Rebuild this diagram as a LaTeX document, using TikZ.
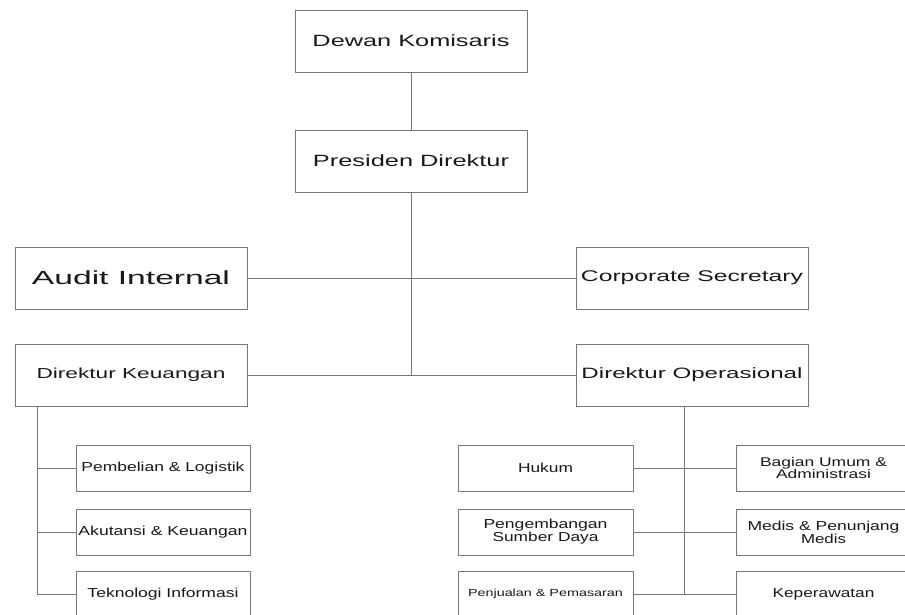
\documentclass[tikz,border=0pt]{standalone}
\usepackage{fontspec}
\setmainfont{Liberation Sans}
\usepackage{graphicx}
\definecolor{linegray}{RGB}{120,120,120}
\definecolor{textc}{RGB}{25,25,25}
\newcommand\fitw[2]{\resizebox{#1pt}{\height}{#2}}
\newcommand\fs[2]{\fontsize{#1}{#2}\selectfont}
\tikzset{
  box/.style={draw=linegray, line width=0.9pt, rectangle, inner sep=0pt, text=textc},
  bigbox/.style={box, minimum width=232pt, minimum height=62pt},
  smallbox/.style={box, minimum width=174pt, minimum height=46pt, align=center},
  conn/.style={draw=linegray, line width=0.9pt},
}
\begin{document}
\begin{tikzpicture}[x=1pt,y=-1pt]
\useasboundingbox (0,0) rectangle (905,614);
\clip (0,0) rectangle (905,614);
\fill[white] (0,0) rectangle (905,614);
% top levels
\node[bigbox, font=\fs{16.3}{19}] (dk) at (411,41) {\fitw{197}{Dewan Komisaris}};
\node[bigbox, font=\fs{16.3}{19}] (pd) at (411,161) {\fitw{196}{Presiden Direktur}};
\node[bigbox, font=\fs{19}{22}] (ai) at (131,278) {\fitw{198}{Audit Internal}};
\node[bigbox, font=\fs{15.5}{18}] (cs) at (692,278) {\fitw{222}{Corporate Secretary}};
\node[bigbox, font=\fs{14.5}{17}] (dkeu) at (131,375) {\fitw{189}{Direktur Keuangan}};
\node[bigbox, font=\fs{15}{18}] (dop) at (692,375) {\fitw{221}{Direktur Operasional}};
% left subtree
\node[smallbox, font=\fs{13}{15}] (pl) at (163,468) {\fitw{163}{Pembelian \& Logistik}};
\node[smallbox, font=\fs{13}{15}] (ak) at (163,532) {\fitw{169}{Akutansi \& Keuangan}};
\node[smallbox, font=\fs{13}{15}] (ti) at (163,594) {\fitw{151}{Teknologi Informasi}};
% right subtree
\node[smallbox, minimum width=175pt, font=\fs{13}{15}] (hk) at (545.5,468) {\fitw{55}{Hukum}};
\node[smallbox, minimum width=175pt, font=\fs{13}{11.3}] (pg) at (545.5,532) {\fitw{124}{Pengembangan}\\\fitw{106}{Sumber Daya}};
\node[smallbox, minimum width=175pt, font=\fs{10.3}{12}] (pj) at (545.5,594) {\fitw{155}{Penjualan \& Pemasaran}};
\node[smallbox, minimum width=175pt, font=\fs{12.6}{11.3}] (bu) at (823.5,468) {\fitw{127}{Bagian Umum \&}\\\fitw{95}{Administrasi}};
\node[smallbox, minimum width=175pt, font=\fs{13}{11}] (md) at (823.5,532) {\fitw{152}{Medis \& Penunjang}\\\fitw{45}{Medis}};
\node[smallbox, minimum width=175pt, font=\fs{13}{15}] (kp) at (823.5,594) {\fitw{102}{Keperawatan}};
% connectors
\coordinate (j1) at (411,375);
\draw[conn] (dk.south) -- (pd.north);
\draw[conn] (pd.south) -- (j1);
\draw[conn] (ai.east) -- (cs.west);
\draw[conn] (dkeu.east) -- (dop.west);
\coordinate (lt) at (37,406);
\coordinate (lb) at (37,594);
\draw[conn] (lt) -- (lb) -- (ti.west);
\draw[conn] (lt |- pl.west) -- (pl.west);
\draw[conn] (lt |- ak.west) -- (ak.west);
\coordinate (rt) at (684,406);
\coordinate (rb) at (684,594);
\draw[conn] (rt) -- (rb);
\draw[conn] (hk.east) -- (bu.west);
\draw[conn] (pg.east) -- (md.west);
\draw[conn] (pj.east) -- (kp.west);
\end{tikzpicture}
\end{document}
